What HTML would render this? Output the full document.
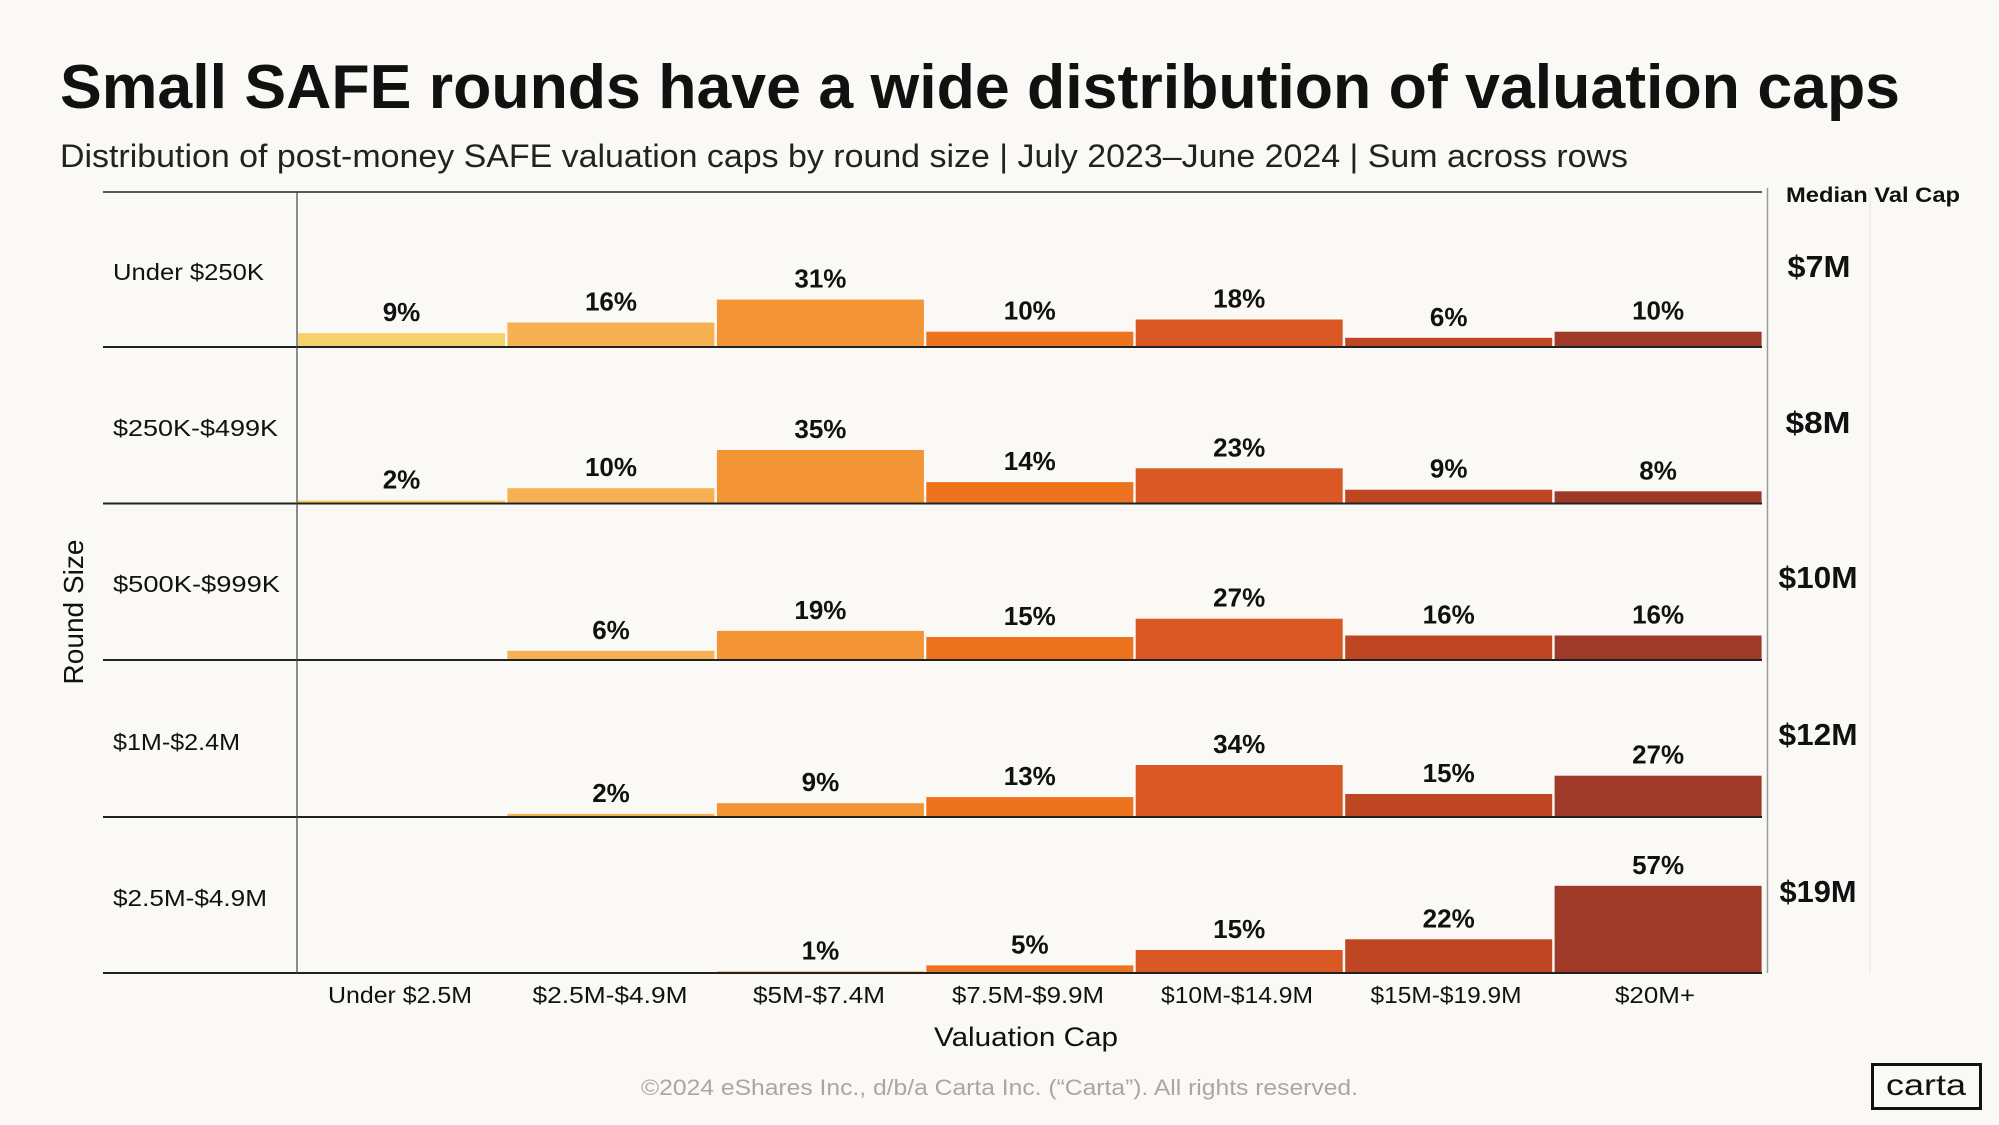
<!DOCTYPE html>
<html>
<head>
<meta charset="utf-8">
<style>
  html,body{margin:0;padding:0;background:#fbf9f5;}
  svg{display:block;}
  text{font-family:"Liberation Sans", sans-serif;fill:#111;}
</style>
</head>
<body>
<svg width="1999" height="1125" viewBox="0 0 1999 1125" xmlns="http://www.w3.org/2000/svg">
  <rect x="0" y="0" width="1999" height="1125" fill="#fbf9f5"/>

  <!-- Title & subtitle -->
  <text x="60" y="108" font-size="62" font-weight="bold" textLength="1840" lengthAdjust="spacingAndGlyphs">Small SAFE rounds have a wide distribution of valuation caps</text>
  <text x="60" y="167" font-size="32" fill="#222" textLength="1568" lengthAdjust="spacingAndGlyphs" style="fill:#222">Distribution of post-money SAFE valuation caps by round size | July 2023–June 2024 | Sum across rows</text>

  <!-- Right side lines -->
  <line x1="1870" y1="188" x2="1870" y2="973" stroke="#f0ece6" stroke-width="1.5"/>
  <line x1="1767.5" y1="188" x2="1767.5" y2="973" stroke="#999" stroke-width="1.5"/>

  <!-- Median Val Cap header -->
  <text x="1786" y="202" font-size="21" font-weight="bold" textLength="174" lengthAdjust="spacingAndGlyphs">Median Val Cap</text>

  <!-- Top line -->
  <line x1="103" y1="192" x2="1762" y2="192" stroke="#222" stroke-width="1.5"/>

  <!-- Bars -->
  <g id="bars">
    <!-- Row 1 baseline 347 -->
    <rect x="298" y="333.2" width="207" height="13.8" fill="#f2d36b"/>
    <rect x="507.4" y="322.5" width="207" height="24.5" fill="#f8b152"/>
    <rect x="716.9" y="299.6" width="207" height="47.4" fill="#f39435"/>
    <rect x="926.3" y="331.7" width="207" height="15.3" fill="#ed731f"/>
    <rect x="1135.7" y="319.5" width="207" height="27.5" fill="#da5823"/>
    <rect x="1345.2" y="337.8" width="207" height="9.2" fill="#be4622"/>
    <rect x="1554.6" y="331.7" width="207" height="15.3" fill="#9f3a28"/>

    <!-- Row 2 baseline 503.5 -->
    <rect x="298" y="500.4" width="207" height="3.1" fill="#f2d36b"/>
    <rect x="507.4" y="488.2" width="207" height="15.3" fill="#f8b152"/>
    <rect x="716.9" y="450" width="207" height="53.5" fill="#f39435"/>
    <rect x="926.3" y="482.1" width="207" height="21.4" fill="#ed731f"/>
    <rect x="1135.7" y="468.3" width="207" height="35.2" fill="#da5823"/>
    <rect x="1345.2" y="489.7" width="207" height="13.8" fill="#be4622"/>
    <rect x="1554.6" y="491.3" width="207" height="12.2" fill="#9f3a28"/>

    <!-- Row 3 baseline 660 -->
    <rect x="507.4" y="650.8" width="207" height="9.2" fill="#f8b152"/>
    <rect x="716.9" y="630.9" width="207" height="29.1" fill="#f39435"/>
    <rect x="926.3" y="637" width="207" height="23" fill="#ed731f"/>
    <rect x="1135.7" y="618.7" width="207" height="41.3" fill="#da5823"/>
    <rect x="1345.2" y="635.5" width="207" height="24.5" fill="#be4622"/>
    <rect x="1554.6" y="635.5" width="207" height="24.5" fill="#9f3a28"/>

    <!-- Row 4 baseline 817 -->
    <rect x="507.4" y="813.9" width="207" height="3.1" fill="#f8b152"/>
    <rect x="716.9" y="803.2" width="207" height="13.8" fill="#f39435"/>
    <rect x="926.3" y="797.1" width="207" height="19.9" fill="#ed731f"/>
    <rect x="1135.7" y="765" width="207" height="52" fill="#da5823"/>
    <rect x="1345.2" y="794" width="207" height="23" fill="#be4622"/>
    <rect x="1554.6" y="775.7" width="207" height="41.3" fill="#9f3a28"/>

    <!-- Row 5 baseline 973 -->
    <rect x="716.9" y="971.5" width="207" height="1.5" fill="#f39435"/>
    <rect x="926.3" y="965.4" width="207" height="7.6" fill="#ed731f"/>
    <rect x="1135.7" y="950" width="207" height="23" fill="#da5823"/>
    <rect x="1345.2" y="939.3" width="207" height="33.7" fill="#be4622"/>
    <rect x="1554.6" y="885.8" width="207" height="87.2" fill="#9f3a28"/>
  </g>

  <!-- Row baselines -->
  <g stroke="#222" stroke-width="2">
    <line x1="103" y1="347" x2="1762" y2="347"/>
    <line x1="103" y1="503.5" x2="1762" y2="503.5"/>
    <line x1="103" y1="660" x2="1762" y2="660"/>
    <line x1="103" y1="817" x2="1762" y2="817"/>
    <line x1="103" y1="973" x2="1762" y2="973"/>
  </g>
  <!-- vertical axis -->
  <line x1="297" y1="192" x2="297" y2="973" stroke="#444" stroke-width="1.2"/>

  <!-- Percent labels -->
  <g font-size="26" font-weight="bold" text-anchor="middle">
    <text x="401.5" y="321">9%</text>
    <text x="611" y="310.5">16%</text>
    <text x="820.4" y="287.6">31%</text>
    <text x="1029.8" y="319.7">10%</text>
    <text x="1239.2" y="307.5">18%</text>
    <text x="1448.7" y="325.8">6%</text>
    <text x="1658.1" y="319.7">10%</text>

    <text x="401.5" y="488.4">2%</text>
    <text x="611" y="476.2">10%</text>
    <text x="820.4" y="438">35%</text>
    <text x="1029.8" y="470.1">14%</text>
    <text x="1239.2" y="456.3">23%</text>
    <text x="1448.7" y="477.7">9%</text>
    <text x="1658.1" y="479.3">8%</text>

    <text x="611" y="638.8">6%</text>
    <text x="820.4" y="618.9">19%</text>
    <text x="1029.8" y="625">15%</text>
    <text x="1239.2" y="606.7">27%</text>
    <text x="1448.7" y="623.5">16%</text>
    <text x="1658.1" y="623.5">16%</text>

    <text x="611" y="801.9">2%</text>
    <text x="820.4" y="791.2">9%</text>
    <text x="1029.8" y="785.1">13%</text>
    <text x="1239.2" y="753">34%</text>
    <text x="1448.7" y="782">15%</text>
    <text x="1658.1" y="763.7">27%</text>

    <text x="820.4" y="959.5">1%</text>
    <text x="1029.8" y="953.4">5%</text>
    <text x="1239.2" y="938">15%</text>
    <text x="1448.7" y="927.3">22%</text>
    <text x="1658.1" y="873.8">57%</text>
  </g>

  <!-- Row labels -->
  <g font-size="23">
    <text x="113" y="280" textLength="151" lengthAdjust="spacingAndGlyphs">Under $250K</text>
    <text x="113" y="436" textLength="165" lengthAdjust="spacingAndGlyphs">$250K-$499K</text>
    <text x="113" y="592" textLength="167" lengthAdjust="spacingAndGlyphs">$500K-$999K</text>
    <text x="113" y="750" textLength="127" lengthAdjust="spacingAndGlyphs">$1M-$2.4M</text>
    <text x="113" y="906" textLength="154" lengthAdjust="spacingAndGlyphs">$2.5M-$4.9M</text>
  </g>

  <!-- Round Size -->
  <text transform="translate(83,612) rotate(-90)" x="0" y="0" font-size="28" text-anchor="middle" textLength="145" lengthAdjust="spacingAndGlyphs">Round Size</text>

  <!-- Median values -->
  <g font-size="31" font-weight="bold" text-anchor="middle">
    <text x="1819" y="277" textLength="63" lengthAdjust="spacingAndGlyphs">$7M</text>
    <text x="1818" y="433" textLength="65" lengthAdjust="spacingAndGlyphs">$8M</text>
    <text x="1818" y="588" textLength="79" lengthAdjust="spacingAndGlyphs">$10M</text>
    <text x="1818" y="745" textLength="79" lengthAdjust="spacingAndGlyphs">$12M</text>
    <text x="1818" y="902" textLength="77" lengthAdjust="spacingAndGlyphs">$19M</text>
  </g>

  <!-- X tick labels -->
  <g font-size="23" text-anchor="middle">
    <text x="400" y="1003" textLength="144" lengthAdjust="spacingAndGlyphs">Under $2.5M</text>
    <text x="610" y="1003" textLength="155" lengthAdjust="spacingAndGlyphs">$2.5M-$4.9M</text>
    <text x="819" y="1003" textLength="132" lengthAdjust="spacingAndGlyphs">$5M-$7.4M</text>
    <text x="1028" y="1003" textLength="152" lengthAdjust="spacingAndGlyphs">$7.5M-$9.9M</text>
    <text x="1237" y="1003" textLength="152" lengthAdjust="spacingAndGlyphs">$10M-$14.9M</text>
    <text x="1446" y="1003" textLength="151" lengthAdjust="spacingAndGlyphs">$15M-$19.9M</text>
    <text x="1655" y="1003" textLength="80" lengthAdjust="spacingAndGlyphs">$20M+</text>
  </g>

  <!-- Axis title -->
  <text x="1026" y="1046" font-size="27" text-anchor="middle" textLength="184" lengthAdjust="spacingAndGlyphs">Valuation Cap</text>

  <!-- Copyright -->
  <text x="641" y="1095" font-size="22" textLength="717" lengthAdjust="spacingAndGlyphs" style="fill:#aaa7a2">©2024 eShares Inc., d/b/a Carta Inc. (“Carta”). All rights reserved.</text>

  <!-- Carta logo -->
  <rect x="1872.5" y="1064.5" width="108" height="44" fill="none" stroke="#111" stroke-width="3"/>
  <text x="1926" y="1095" font-size="30" text-anchor="middle" textLength="80" lengthAdjust="spacingAndGlyphs">carta</text>
</svg>
</body>
</html>
